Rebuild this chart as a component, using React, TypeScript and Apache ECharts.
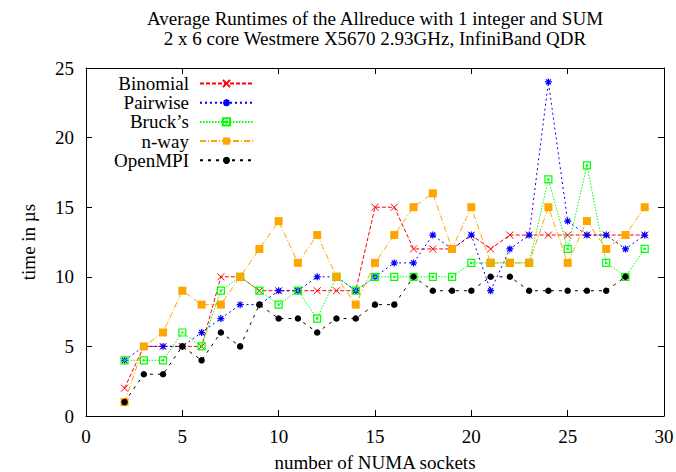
import React, { useEffect, useRef } from "react";
import * as echarts from "echarts";

const sockets = [2, 3, 4, 5, 6, 7, 8, 9, 10, 11, 12, 13, 14, 15, 16, 17, 18, 19, 20, 21, 22, 23, 24, 25, 26, 27, 28, 29];
const binomial = [2, 5, 5, 5, 5, 10, 10, 9, 9, 9, 9, 9, 9, 15, 15, 12, 12, 12, 13, 12, 13, 13, 13, 13, 13, 13, 13, 13];
const pairwise = [4, 5, 5, 5, 6, 7, 8, 8, 9, 9, 10, 10, 9, 10, 11, 11, 13, 12, 13, 9, 12, 13, 24, 14, 13, 13, 12, 13];
const brucks = [4, 4, 4, 6, 5, 9, 10, 9, 8, 9, 7, 10, 9, 10, 10, 10, 10, 10, 11, 11, 11, 11, 17, 12, 18, 11, 10, 12];
const nway = [1, 5, 6, 9, 8, 8, 10, 12, 14, 11, 13, 10, 8, 11, 13, 15, 16, 12, 15, 11, 11, 11, 15, 11, 14, 12, 13, 15];
const openmpi = [1, 3, 3, 5, 4, 6, 5, 8, 7, 7, 6, 7, 7, 8, 8, 10, 9, 9, 9, 10, 10, 9, 9, 9, 9, 9, 10];

const seriesNames = ["Binomial", "Pairwise", "Bruck\u2019s", "n-way", "OpenMPI"];
const titleLines = [
  "Average Runtimes of the Allreduce with 1 integer and SUM",
  "2 x 6 core Westmere X5670 2.93GHz, InfiniBand QDR",
];
const xName = "number of NUMA sockets";
const yName = "time in \u00b5s";

const FONT = "Liberation Serif, DejaVu Serif, serif";

function pairs(vals: number[]) {
  return vals.map((v, i) => [sockets[i], v]);
}

export default function App() {
  const ref = useRef<HTMLDivElement>(null);
  useEffect(() => {
    if (!ref.current) return;
    const chart = echarts.init(ref.current, undefined, { renderer: "svg" });

    const xCommon = {
      type: "value" as const,
      min: 0,
      max: 30,
      interval: 5,
      splitLine: { show: false },
      axisLine: { show: true, onZero: false, lineStyle: { color: "#000", width: 1 } },
      axisTick: { show: true, inside: true, length: 6, lineStyle: { color: "#000", width: 1 } },
    };
    const yCommon = {
      type: "value" as const,
      min: 0,
      max: 25,
      interval: 5,
      splitLine: { show: false },
      axisLine: { show: true, onZero: false, lineStyle: { color: "#000", width: 1 } },
      axisTick: { show: true, inside: true, length: 6, lineStyle: { color: "#000", width: 1 } },
    };

    const styles = [
      {
        color: "#ff0000",
        dash: [4, 2],
        symbol: "path://M0 0L7 7M7 0L0 7",
        size: 7,
        item: { color: "#ff0000", borderColor: "#ff0000", borderWidth: 1 },
      },
      {
        color: "#0000ff",
        dash: [2, 3],
        symbol: "path://M0 3.5H7M3.5 0V7M1 1L6 6M6 1L1 6",
        size: 7,
        item: { color: "#0000ff", borderColor: "#0000ff", borderWidth: 1.2 },
      },
      {
        color: "#00ff00",
        dash: [1.5, 1.5],
        symbol: "path://M0 0H7V7H0Z M3 3H4V4H3Z",
        size: 7,
        item: { color: "rgba(0,0,0,0)", borderColor: "#00ff00", borderWidth: 1.2 },
      },
      {
        color: "#ffa500",
        dash: [6, 2, 1, 2],
        symbol: "rect",
        size: 8,
        item: { color: "#ffa500", borderWidth: 0 },
      },
      {
        color: "#000000",
        dash: [3, 5],
        symbol: "circle",
        size: 6.5,
        item: { color: "#000000", borderWidth: 0 },
      },
    ];
    const allData = [binomial, pairwise, brucks, nway, openmpi];

    const series = seriesNames.map((name, i) => ({
      name,
      type: "line" as const,
      data: pairs(allData[i]),
      xAxisIndex: 0,
      yAxisIndex: 0,
      symbol: styles[i].symbol,
      symbolSize: styles[i].size,
      showAllSymbol: true,
      lineStyle: { color: styles[i].color, width: 1, type: styles[i].dash },
      itemStyle: styles[i].item,
      emphasis: { disabled: true },
      z: 2 + i,
    }));

    const legends = seriesNames.map((name, i) => ({
      data: [name],
      orient: "horizontal" as const,
      align: "right" as const,
      right: 422,
      top: 74 + i * 19.2,
      padding: 0,
      itemWidth: 53,
      itemHeight: 9,
      selectedMode: false,
      textStyle: { fontSize: 19, fontFamily: FONT, color: "#000", padding: [0, 6, 0, 0] },
    }));

    chart.setOption({
      animation: false,
      backgroundColor: "#fff",
      title: {
        text: titleLines.join("\n"),
        left: 375,
        textAlign: "center",
        top: 8,
        padding: 0,
        textStyle: { fontSize: 19, fontWeight: "normal", fontFamily: FONT, color: "#000", lineHeight: 20 },
      },
      legend: legends,
      grid: { left: 86, right: 12, top: 68, bottom: 56, containLabel: false, outerBoundsMode: "none" },
      xAxis: [
        {
          ...xCommon,
          position: "bottom",
          name: xName,
          nameLocation: "middle",
          nameGap: 37,
          nameTextStyle: { fontSize: 19, fontFamily: FONT, color: "#000" },
          axisLabel: { color: "#000", fontSize: 19, fontFamily: FONT, margin: 11 },
        },
        { ...xCommon, position: "top", axisLabel: { show: false } },
      ],
      yAxis: [
        {
          ...yCommon,
          position: "left",
          name: yName,
          nameLocation: "middle",
          nameRotate: 90,
          nameGap: 48,
          nameTextStyle: { fontSize: 19, fontFamily: FONT, color: "#000" },
          axisLabel: { color: "#000", fontSize: 19, fontFamily: FONT, margin: 12 },
        },
        { ...yCommon, position: "right", axisLabel: { show: false } },
      ],
      series,
    });
    return () => chart.dispose();
  }, []);
  return (
    <div
      ref={ref}
      style={{ position: "fixed", left: 0, top: 0, width: 676, height: 472, background: "#fff" }}
    />
  );
}
